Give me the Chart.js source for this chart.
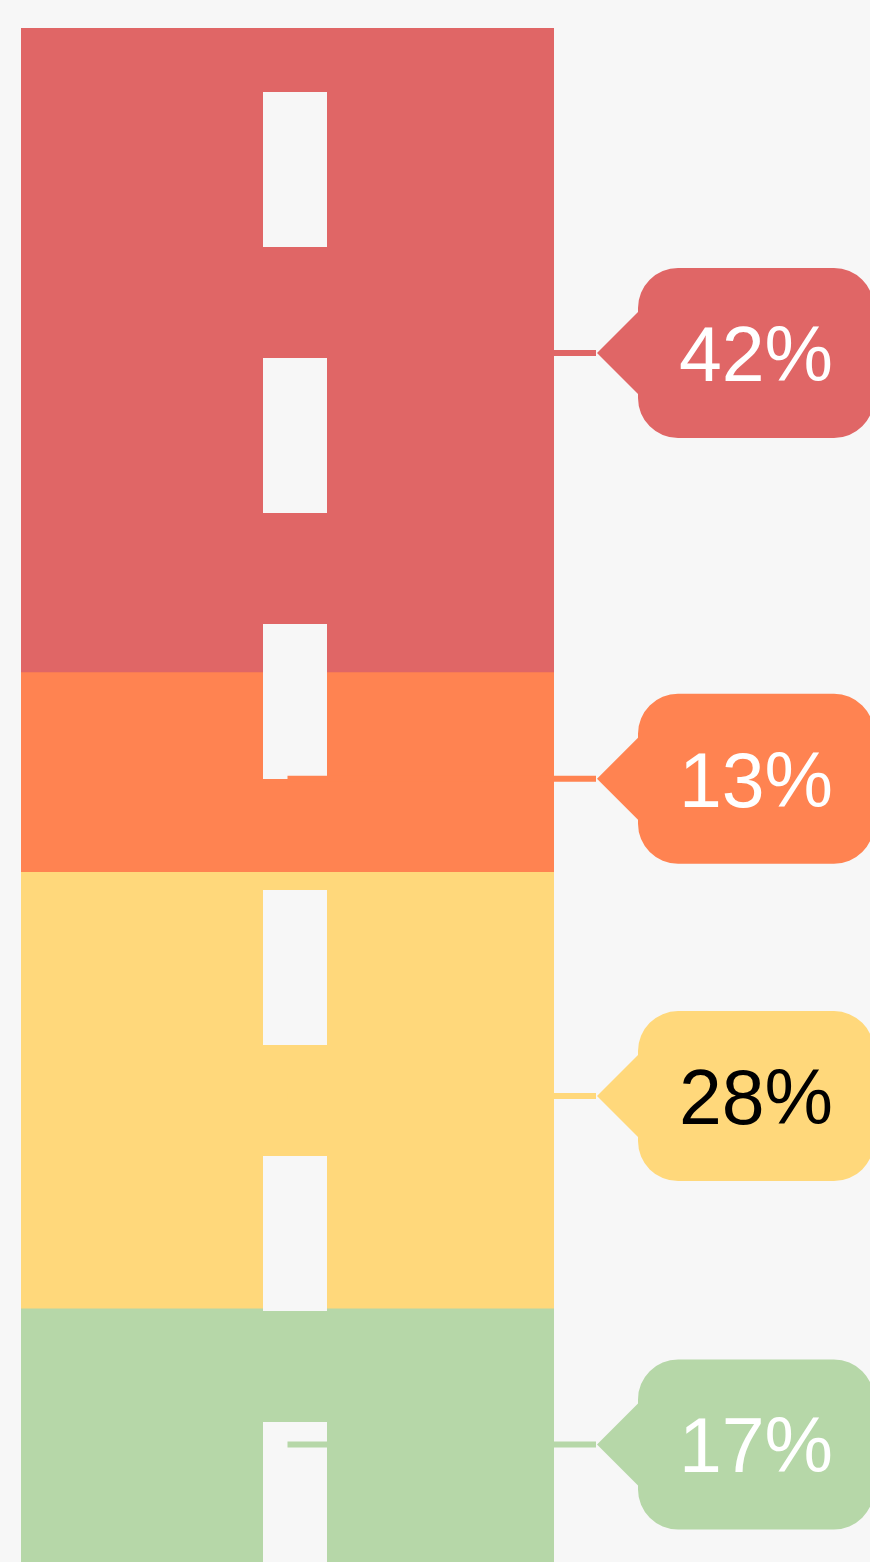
<!DOCTYPE html>
<html lang="en">
<head>
<meta charset="UTF-8">
<title>Road share chart</title>
<script src="https://cdn.jsdelivr.net/npm/chart.js"></script>
<style>
  html, body { margin: 0; padding: 0; background: #f7f7f7; overflow: hidden; }
  canvas { display: block; }
</style>
</head>
<body>
<canvas id="road" width="870" height="1576"></canvas>
<script>
const segments = ['Red', 'Orange', 'Yellow', 'Green'];
const shares = [41.6, 12.9, 28.2, 17.3];   // bar segment sizes
const percents = [42, 13, 28, 17];         // callout labels (rounded)
const colors = ['#e06666', '#ff8351', '#ffd87b', '#b6d7a8'];
const textColors = ['#ffffff', '#ffffff', '#000000', '#ffffff'];
const bg = '#f7f7f7';

const roadPlugin = {
    id: 'road',
    afterDatasetsDraw(chart) {
        const ctx = chart.ctx;
        const area = chart.chartArea;
        const y = chart.scales.y;
        const bar = chart.getDatasetMeta(0).data[0];
        const cx = bar.x;
        const right = bar.x + bar.width / 2;

        // lane markings
        ctx.save();
        ctx.strokeStyle = bg;
        ctx.lineWidth = 64;
        ctx.setLineDash([155, 111]);
        ctx.beginPath();
        ctx.moveTo(cx + 7.5, area.top + 64);
        ctx.lineTo(cx + 7.5, area.bottom);
        ctx.stroke();
        ctx.restore();

        // leader lines + callouts
        let acc = 0;
        percents.forEach((p, i) => {
            const cy = y.getPixelForValue(acc + p / 2);
            acc += p;
            const tipX = right + 43;

            ctx.save();
            ctx.strokeStyle = colors[i];
            ctx.lineWidth = 6;
            ctx.beginPath();
            ctx.moveTo(cx, cy);
            ctx.lineTo(tipX - 1, cy);
            ctx.stroke();

            const boxL = tipX + 41, boxR = boxL + 236;
            const top = cy - 85, bottom = cy + 85, r = 40;
            ctx.fillStyle = colors[i];
            ctx.beginPath();
            ctx.moveTo(tipX, cy);
            ctx.lineTo(boxL, cy - 41);
            ctx.lineTo(boxL, top + r);
            ctx.arcTo(boxL, top, boxL + r, top, r);
            ctx.lineTo(boxR - r, top);
            ctx.arcTo(boxR, top, boxR, top + r, r);
            ctx.lineTo(boxR, bottom - r);
            ctx.arcTo(boxR, bottom, boxR - r, bottom, r);
            ctx.lineTo(boxL + r, bottom);
            ctx.arcTo(boxL, bottom, boxL, bottom - r, r);
            ctx.lineTo(boxL, cy + 41);
            ctx.closePath();
            ctx.fill();

            ctx.fillStyle = textColors[i];
            ctx.font = '77px "Liberation Sans", Arial, sans-serif';
            ctx.textAlign = 'center';
            ctx.textBaseline = 'alphabetic';
            ctx.fillText(p + '%', (boxL + boxR) / 2, cy + 28);
            ctx.restore();
        });
    }
};

new Chart(document.getElementById('road'), {
    type: 'bar',
    data: {
        labels: ['Share'],
        datasets: segments.map((name, i) => ({
            label: name,
            data: [shares[i]],
            backgroundColor: colors[i],
            borderWidth: 0,
            barPercentage: 1,
            categoryPercentage: 1
        }))
    },
    options: {
        responsive: false,
        animation: false,
        layout: { padding: { left: 21, right: 316, top: 28, bottom: 0 } },
        plugins: { legend: { display: false }, tooltip: { enabled: false } },
        scales: {
            x: { stacked: true, display: false },
            y: { stacked: true, display: false, reverse: true, min: 0, max: 100 }
        }
    },
    plugins: [roadPlugin]
});
</script>
</body>
</html>
